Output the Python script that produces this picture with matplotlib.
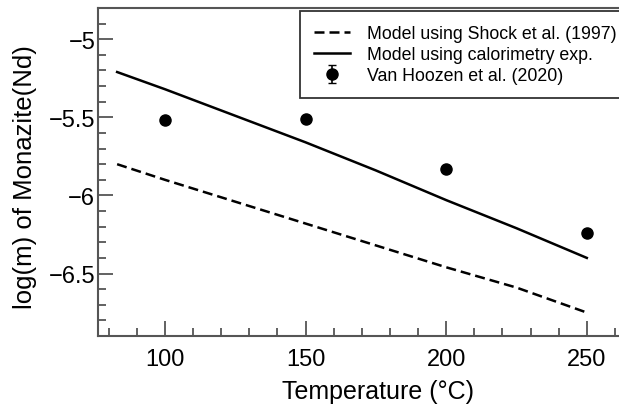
import matplotlib.pyplot as plt
from matplotlib.ticker import MultipleLocator, FuncFormatter

plt.rcParams['font.family'] = ['Liberation Sans', 'DejaVu Sans']

# model curves
temp_model = [83, 100, 125, 150, 175, 200, 225, 250]
logm_shock = [-5.80, -5.90, -6.04, -6.18, -6.32, -6.46, -6.59, -6.75]
logm_calor = [-5.21, -5.32, -5.49, -5.66, -5.84, -6.03, -6.21, -6.40]

# experimental data
temp_exp = [100, 150, 200, 250]
logm_exp = [-5.52, -5.51, -5.83, -6.24]
err_exp = [0.01, 0.01, 0.01, 0.01]

fig = plt.figure(figsize=(6.19, 4.10), dpi=100)
ax = fig.add_axes([98 / 619, 73 / 410, 560 / 619, 328 / 410])

ax.plot(temp_model, logm_shock, color='black', lw=1.8, linestyle=(0, (4, 2)),
        label='Model using Shock et al. (1997)')
ax.plot(temp_model, logm_calor, color='black', lw=1.8,
        label='Model using calorimetry exp.')
ax.errorbar(temp_exp, logm_exp, yerr=err_exp, fmt='o', color='black', ms=8,
            capsize=3, elinewidth=1.2, label='Van Hoozen et al. (2020)')

# axis runs past the right edge of the picture (cropped original)
ax.set_xlim(76.2, 76.2 + 560 / 2.8125)
ax.set_ylim(-6.9, -4.8)
ax.xaxis.set_major_locator(MultipleLocator(50))
ax.xaxis.set_minor_locator(MultipleLocator(10))
ax.yaxis.set_major_locator(MultipleLocator(0.5))
ax.yaxis.set_minor_locator(MultipleLocator(0.1))
ax.yaxis.set_major_formatter(FuncFormatter(lambda v, p: f'{v:g}'.replace('-', '\u2212')))

gray = '#555555'
for s in ax.spines.values():
    s.set_color(gray)
    s.set_linewidth(1.5)
ax.tick_params(which='both', direction='in', color=gray, width=1.3, labelsize=17)
ax.tick_params(which='major', length=11)
ax.tick_params(which='minor', length=6)
ax.tick_params(axis='x', pad=9)
ax.tick_params(axis='y', pad=2)

ax.set_xlabel('Temperature (°C)', fontsize=18, labelpad=6)
ax.set_ylabel('log(m) of Monazite(Nd)', fontsize=18.5, labelpad=0)
ax.yaxis.set_label_coords(-0.109, 0.487)

leg = ax.legend(loc='upper left', bbox_to_anchor=((300 - 98) / 560, (337 - 12) / 328),
                fontsize=12.8, frameon=True, fancybox=False, edgecolor='black',
                labelspacing=0.22, handlelength=2.0, borderpad=0.8, handletextpad=0.95,
                borderaxespad=0)
leg.get_frame().set_linewidth(1.3)

fig.savefig('out.png', dpi=100, facecolor='white')
